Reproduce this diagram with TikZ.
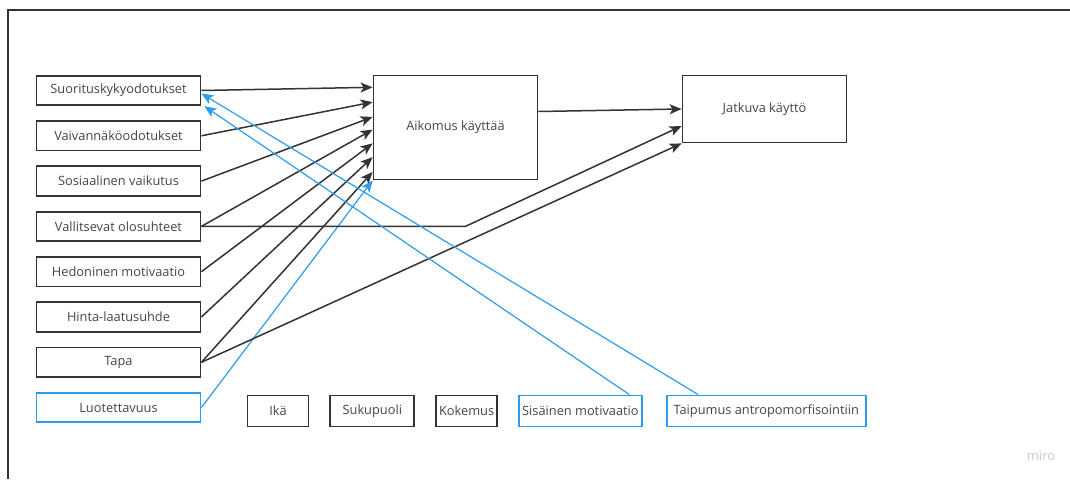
\documentclass[tikz,border=0pt]{standalone}
\usepackage{fontspec}
\setmainfont{Open Sans}
\usetikzlibrary{arrows.meta,positioning,calc}
\definecolor{ink}{HTML}{333333}
\definecolor{txt}{HTML}{454545}
\definecolor{miroblue}{HTML}{2D9BF0}
\definecolor{wmark}{HTML}{C4C6D6}
\begin{document}
\begin{tikzpicture}[x=1pt, y=-1pt, font=\fontsize{12.8}{14}\selectfont, text=txt,
box/.style={draw=ink, line width=1.8pt, fill=white, minimum width=164pt, minimum height=29.5pt, inner sep=1pt, align=center},
bluebox/.style={box, draw=miroblue},
small/.style={box, minimum height=31pt},
arr/.style={-{Stealth[length=12pt,width=10pt,inset=3pt]}, draw=ink, line width=1.5pt},
barr/.style={-{Stealth[length=12pt,width=10pt,inset=3pt]}, draw=miroblue, line width=1.2pt}]
\useasboundingbox (0,0) rectangle (1070,479);
\draw[ink, line width=1.4pt] (8,479) -- (8,10) -- (1070,10);
% left column
\node[box] (suo) at (118.5,90.5) {Suorituskykyodotukset};
\node[box, below=14pt of suo] (vai) {Vaivannäköodotukset};
\node[box, below=14pt of vai] (sos) {Sosiaalinen vaikutus};
\node[box, below=14pt of sos] (val) {Vallitsevat olosuhteet};
\node[box, below=14pt of val] (hed) {Hedoninen motivaatio};
\node[box, below=14pt of hed] (hin) {Hinta-laatusuhde};
\node[box, below=14pt of hin] (tap) {Tapa};
\node[bluebox, below=14pt of tap] (luo) {Luotettavuus};
% targets
\node[box, minimum height=104pt] (aik) at (455.5,127.5) {Aikomus käyttää};
\node[box, minimum height=67pt] (jat) at (764.5,109) {Jatkuva käyttö};
% bottom row
\node[small, minimum width=61pt] (ika) at (278,411) {Ikä};
\node[small, minimum width=84pt, right=20pt of ika] (suk) {Sukupuoli};
\node[small, minimum width=61pt, right=20pt of suk] (kok) {Kokemus};
\node[small, draw=miroblue, minimum width=123pt, right=20pt of kok] (sis) {Sisäinen motivaatio};
\node[small, draw=miroblue, minimum width=199pt, right=23pt of sis] (tai) {Taipumus antropomorfisointiin};
\node[text=wmark, font=\fontsize{13}{14}\selectfont] (miro) at (1041,456) {miro};
% to intention
\draw[arr] (suo.east) -- ($(aik.north west)!.12!(aik.south west)$);
\draw[arr] (vai.east) -- ($(aik.north west)!.26!(aik.south west)$);
\draw[arr] (sos.east) -- ($(aik.north west)!.4!(aik.south west)$);
\draw[arr] (val.east) -- ($(aik.north west)!.52!(aik.south west)$);
\draw[arr] (hed.east) -- ($(aik.north west)!.65!(aik.south west)$);
\draw[arr] (hin.east) -- ($(aik.north west)!.78!(aik.south west)$);
\draw[arr] (tap.east) -- ($(aik.north west)!.92!(aik.south west)$);
\draw[barr] (luo.east) -- (aik.south west);
% to continued use
\draw[arr] ([yshift=16pt]aik.east) -- (jat.west);
\draw[arr] (val.east) -- ++(264,0) -- ([yshift=-17pt]jat.west);
\draw[arr] (tap.east) -- (jat.south west);
% blue back links
\draw[barr] ([xshift=-68pt]tai.north) -- ([yshift=-3pt]suo.east);
\draw[barr] ([xshift=49pt]sis.north) -- ([xshift=3pt]suo.south east);
\end{tikzpicture}
\end{document}
